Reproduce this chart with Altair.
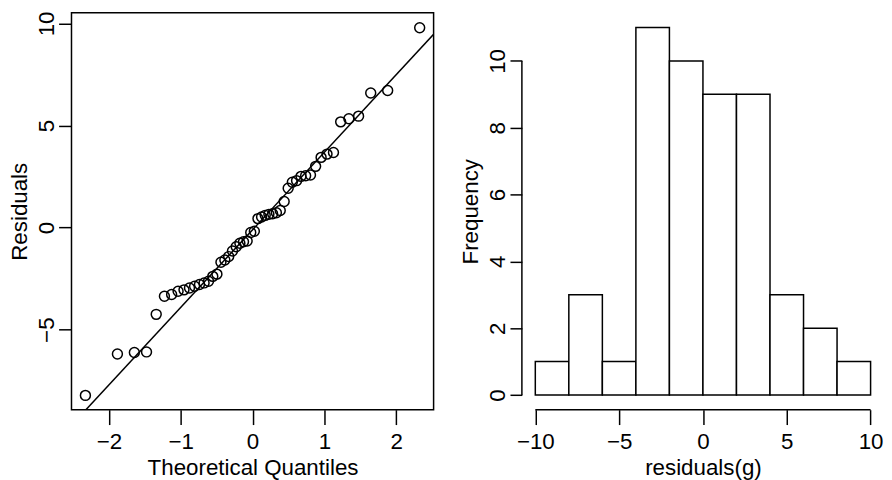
import altair as alt
import pandas as pd

# ---- data ----
residuals = [-8.22, -6.19, -6.12, -6.09, -4.25, -3.36, -3.28, -3.12, -3.05, -2.96,
             -2.87, -2.79, -2.71, -2.63, -2.39, -2.28, -1.70, -1.59, -1.42, -1.15,
             -0.94, -0.77, -0.69, -0.66, -0.24, -0.18, 0.44, 0.52, 0.60, 0.65,
             0.68, 0.73, 0.84, 1.28, 1.93, 2.22, 2.30, 2.51, 2.54, 2.58,
             3.00, 3.44, 3.60, 3.68, 5.18, 5.33, 5.46, 6.59, 6.72, 9.79]
qqline_intercept = -0.11
qqline_slope = 3.80

qq_x_ticks = [-2, -1, 0, 1, 2]
qq_y_ticks = [-5, 0, 5, 10]
qq_x_domain = [-2.52, 2.52]
qq_y_domain = [-8.92, 10.52]

hist_bin_start = [-10, -8, -6, -4, -2, 0, 2, 4, 6, 8]
hist_bin_end = [-8, -6, -4, -2, 0, 2, 4, 6, 8, 10]
hist_counts = [1, 3, 1, 11, 10, 9, 9, 3, 2, 1]
hist_x_ticks = [-10, -5, 0, 5, 10]
hist_y_ticks = [0, 2, 4, 6, 8, 10]
hist_x_domain = [-10.8, 10.8]
hist_y_domain = [-0.44, 11.44]

W, H = 365, 400
FONT = "Liberation Sans"
FS = 22.5
LW = 1.5
n = len(residuals)

common_axis = dict(
    domain=False, grid=False, tickColor="black", tickWidth=LW,
    labelColor="black", labelFont=FONT, labelFontSize=FS,
    titleColor="black", titleFont=FONT, titleFontSize=FS, titleFontWeight="normal",
)

def x_axis(ticks, title):
    return alt.Axis(values=ticks, format="d", title=title, tickSize=15, labelPadding=6,
                    labelBaseline="top", labelFlush=False, labelOverlap=False,
                    titleX=W / 2, titleY=65, titleAlign="center", titleBaseline="alphabetic",
                    **common_axis)

def y_axis(ticks, title, tick, pad):
    return alt.Axis(values=ticks, format="d", title=title, tickSize=tick, labelPadding=pad,
                    labelAngle=270, labelAlign="center", labelBaseline="alphabetic",
                    labelFlush=False, labelOverlap=False,
                    titleX=-45, titleY=H / 2, titleAngle=270, titleAlign="center",
                    titleBaseline="alphabetic", **common_axis)

# ---- QQ plot ----
qq_df = pd.DataFrame({"residual": residuals})
qx = alt.X("theoretical:Q", scale=alt.Scale(domain=qq_x_domain, nice=False, zero=False),
           axis=x_axis(qq_x_ticks, "Theoretical Quantiles"))
qy = alt.Y("residual:Q", scale=alt.Scale(domain=qq_y_domain, nice=False, zero=False),
           axis=y_axis(qq_y_ticks, "Residuals", 13, 5))

points = (
    alt.Chart(qq_df)
    .transform_window(rn="row_number()", sort=[alt.SortField("residual")])
    .transform_calculate(theoretical=f"quantileNormal((datum.rn - 0.5) / {n})")
    .mark_point(shape="circle", filled=False, color="black", size=100, strokeWidth=LW, opacity=1)
    .encode(x=qx, y=qy)
)

line_df = pd.DataFrame({"theoretical": qq_x_domain})
qqline = (
    alt.Chart(line_df)
    .transform_calculate(residual=f"{qqline_intercept} + {qqline_slope} * datum.theoretical")
    .mark_line(color="black", strokeWidth=LW, clip=True)
    .encode(x=qx, y=qy)
)

left = alt.layer(qqline, points).properties(
    width=W, height=H,
    view=alt.ViewBackground(stroke="black", strokeWidth=LW, fill="white"),
)

# ---- histogram ----
hist_xscale = alt.Scale(domain=hist_x_domain, nice=False, zero=False)
hist_yscale = alt.Scale(domain=hist_y_domain, nice=False, zero=False)
hist_xaxis = x_axis(hist_x_ticks, "residuals(g)")
hist_yaxis = y_axis(hist_y_ticks, "Frequency", 12, 6)

hist_df = pd.DataFrame({"bin_start": hist_bin_start, "bin_end": hist_bin_end, "count": hist_counts})
bars = (
    alt.Chart(hist_df)
    .mark_rect(fill="white", stroke="black", strokeWidth=LW)
    .encode(x=alt.X("bin_start:Q", scale=hist_xscale, axis=hist_xaxis),
            x2="bin_end:Q",
            y=alt.Y("count:Q", scale=hist_yscale, axis=hist_yaxis),
            y2=alt.datum(0))
)

xline_df = pd.DataFrame({"lo": [hist_x_ticks[0]], "hi": [hist_x_ticks[-1]]})
xline = (
    alt.Chart(xline_df)
    .mark_rule(color="black", strokeWidth=LW)
    .encode(x=alt.X("lo:Q", scale=hist_xscale, axis=hist_xaxis), x2="hi:Q", y=alt.value(H))
)
yline_df = pd.DataFrame({"lo": [hist_y_ticks[0]], "hi": [hist_y_ticks[-1]]})
yline = (
    alt.Chart(yline_df)
    .mark_rule(color="black", strokeWidth=LW)
    .encode(y=alt.Y("lo:Q", scale=hist_yscale, axis=hist_yaxis), y2="hi:Q", x=alt.value(0))
)

right = alt.layer(bars, xline, yline).properties(width=W, height=H)

chart = (
    alt.hconcat(left, right, spacing=89, bounds="flush")
    .configure_view(stroke=None)
    .properties(padding={"left": 0, "top": 0, "right": 0, "bottom": 0}, background="white")
)

chart.save("out.html", embed_options={"renderer": "svg", "actions": False})
